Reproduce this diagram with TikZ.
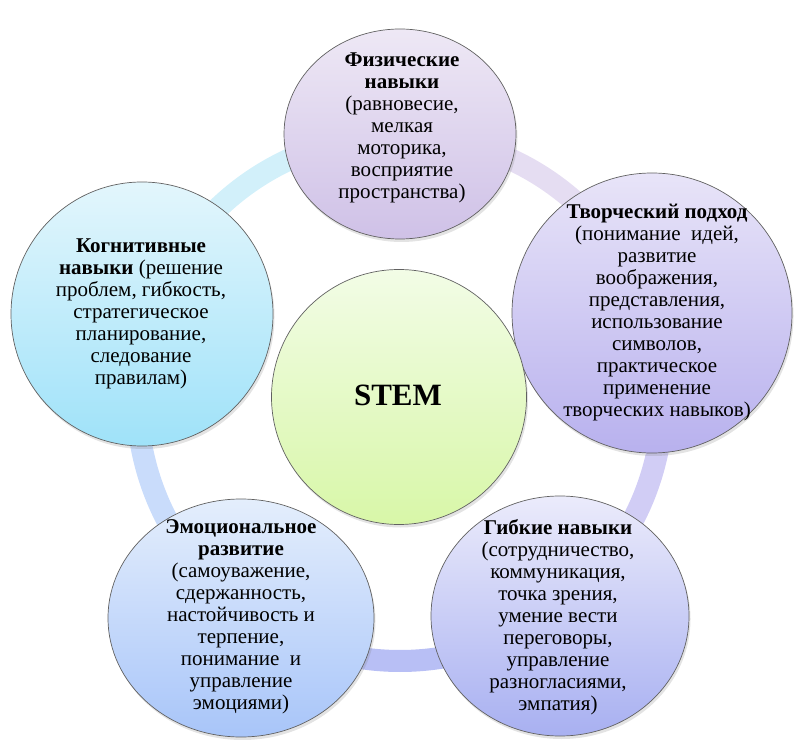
\documentclass[tikz,border=0pt]{standalone}
\usepackage{fontspec}
\setmainfont{Liberation Serif}
\usetikzlibrary{shapes.geometric,shadows}

\definecolor{stemtop}{HTML}{F2FCE6}
\definecolor{stembot}{HTML}{D8F7A8}
\definecolor{phystop}{HTML}{EEE8F5}
\definecolor{physbot}{HTML}{CFC1E7}
\definecolor{creatop}{HTML}{E8E4F8}
\definecolor{creabot}{HTML}{B8B1EE}
\definecolor{softtop}{HTML}{EBEBFB}
\definecolor{softbot}{HTML}{A8B0F1}
\definecolor{emotop}{HTML}{E4EEFC}
\definecolor{emobot}{HTML}{A8C5F9}
\definecolor{cogtop}{HTML}{E3F6FC}
\definecolor{cogbot}{HTML}{9FE2F9}
\definecolor{ringA}{HTML}{D2F0FA}
\definecolor{ringB}{HTML}{E5DDF2}
\definecolor{ringC}{HTML}{D1CDF5}
\definecolor{ringD}{HTML}{B8BFF5}
\definecolor{ringE}{HTML}{C9DCFB}

\begin{document}
\begin{tikzpicture}[x=1pt, y=1pt,
  bubble/.style={ellipse, draw=black!62, line width=0.7pt, inner sep=0pt,
    drop shadow={opacity=0.22, shadow xshift=1.5pt, shadow yshift=-3pt}},
  bubbletext/.style={align=center, inner sep=0pt, font=\fontsize{21}{22}\selectfont},
  ring/.style={line width=22pt}
]
\useasboundingbox (0,0) rectangle (794,739);
% ring behind the circles
\foreach \a/\c in {90/ringA, 18/ringB, -54/ringC, -126/ringD, -198/ringE}
  \draw[ring, \c] (400,341) ++(\a:263) arc[start angle=\a, end angle=\a+72, radius=263];

\node[bubble, minimum width=232pt, minimum height=210pt, top color=phystop, bottom color=physbot] (phys) at (400,605) {};
\node[bubble, minimum width=280pt, minimum height=280pt, top color=creatop, bottom color=creabot] (crea) at (652,426) {};
\node[bubble, minimum width=258pt, minimum height=240pt, top color=softtop, bottom color=softbot] (soft) at (560,123) {};
\node[bubble, minimum width=266pt, minimum height=238pt, top color=emotop, bottom color=emobot] (emo) at (241,121) {};
\node[bubble, minimum width=262pt, minimum height=264pt, top color=cogtop, bottom color=cogbot] (cog) at (142,425) {};
\node[bubble, minimum width=255pt, minimum height=255pt, top color=stemtop, bottom color=stembot] (stem) at (399,342) {};

\node[bubbletext] (phystext) at (402,611) {\textbf{Физические}\\\textbf{навыки}\\(равновесие,\\мелкая\\моторика,\\восприятие\\пространства)};
\node[bubbletext] (creatext) at (657,426) {\textbf{Творческий подход}\\(понимание~ идей,\\развитие\\воображения,\\представления,\\использование\\символов,\\практическое\\применение\\творческих навыков)};
\node[bubbletext] (softtext) at (558,122) {\textbf{Гибкие навыки}\\(сотрудничество,\\коммуникация,\\точка зрения,\\умение вести\\переговоры,\\управление\\разногласиями,\\эмпатия)};
\node[bubbletext] (emotext) at (241,122) {\textbf{Эмоциональное}\\\textbf{развитие}\\(самоуважение,\\сдержанность,\\настойчивость и\\терпение,\\понимание~ и\\управление\\эмоциями)};
\node[bubbletext] (cogtext) at (141,425) {\textbf{Когнитивные}\\\textbf{навыки} (решение\\проблем, гибкость,\\стратегическое\\планирование,\\следование\\правилам)};
\node[font=\fontsize{31}{31}\selectfont\bfseries, inner sep=0pt] (stemtext) at (398,344) {STEM};
\end{tikzpicture}
\end{document}
